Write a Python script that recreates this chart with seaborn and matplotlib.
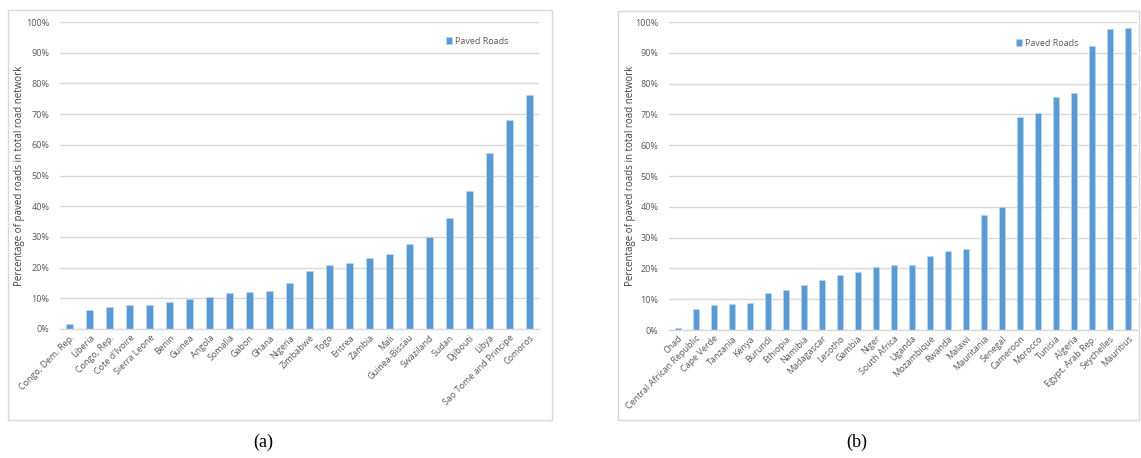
import matplotlib
matplotlib.use("Agg")
import matplotlib.pyplot as plt
import seaborn as sns
import pandas as pd
from matplotlib.patches import Rectangle
from matplotlib.ticker import PercentFormatter

countries_a = ["Congo, Dem. Rep.", "Liberia", "Congo, Rep.", "Cote d'Ivoire", "Sierra Leone",
               "Benin", "Guinea", "Angola", "Somalia", "Gabon", "Ghana", "Nigeria", "Zimbabwe",
               "Togo", "Eritrea", "Zambia", "Mali", "Guinea-Bissau", "Swaziland", "Sudan",
               "Djibouti", "Libya", "Sao Tome and Principe", "Comoros"]
paved_a = [1.7, 6.3, 7.1, 7.9, 7.9, 8.7, 9.8, 10.3, 11.7, 11.9, 12.5, 14.9, 18.9,
           20.8, 21.6, 23.2, 24.5, 27.8, 30.1, 36.3, 44.8, 57.3, 68.1, 76.3]

countries_b = ["Chad", "Central African Republic", "Cape Verde", "Tanzania", "Kenya", "Burundi",
               "Ethiopia", "Namibia", "Madagascar", "Lesotho", "Gambia", "Niger", "South Africa",
               "Uganda", "Mozambique", "Rwanda", "Malawi", "Mauritania", "Senegal", "Cameroon",
               "Morocco", "Tunisia", "Algeria", "Egypt, Arab Rep.", "Seychelles", "Mauritius"]
paved_b = [0.5, 6.7, 8.0, 8.3, 8.8, 12.1, 13.0, 14.5, 16.3, 17.9, 18.9, 20.5, 21.2,
           21.2, 24.1, 25.7, 26.2, 37.4, 39.8, 69.1, 70.4, 75.8, 77.1, 92.2, 97.7, 97.9]

yticks = [0, 10, 20, 30, 40, 50, 60, 70, 80, 90, 100]
series_name = "Paved Roads"
ylabel = "Percentage of paved roads in total road network"
captions = ["(a)", "(b)"]

sns.set_theme(style="white")
plt.rcParams['font.family'] = ['Open Sans', 'DejaVu Sans']

W, H = 1141, 458
fig = plt.figure(figsize=(W / 100, H / 100), dpi=100)

BAR = "#5B9BD5"
GRID = "#D9D9D9"
TXT = "#595959"


def px(x0, y0, x1, y1):
    return [x0 / W, (H - y1) / H, (x1 - x0) / W, (y1 - y0) / H]


# outer boxes
for (x0, y0, x1, y1) in [(8, 10, 552, 420), (618, 11, 1139, 420)]:
    fig.patches.append(Rectangle((x0 / W, (H - y1) / H), (x1 - x0) / W, (y1 - y0) / H,
                                 transform=fig.transFigure, fill=False,
                                 edgecolor="#D9D9D9", linewidth=1.0))

panels = [
    (countries_a, paved_a, px(60, 22, 539, 329), 20, (447, 40), captions[0], 263),
    (countries_b, paved_b, px(669, 22, 1137, 330), 630, (1017, 42), captions[1], 857),
]

for cats, vals, rect, ylx, legpos, cap, capx in panels:
    ax = fig.add_axes(rect)
    df = pd.DataFrame({"country": cats, "value": vals})
    sns.barplot(data=df, x="country", y="value", color=BAR, width=0.35,
                saturation=1, label=series_name, ax=ax, edgecolor="#BDD7EE", linewidth=0.4)
    ax.set_ylim(0, 100)
    ax.set_xlim(-0.5, len(cats) - 0.5)
    ax.set_yticks(yticks)
    ax.yaxis.set_major_formatter(PercentFormatter(decimals=0))
    ax.grid(axis="y", color=GRID, linewidth=1.0)
    ax.set_axisbelow(True)
    for s in ["top", "right", "left"]:
        ax.spines[s].set_visible(False)
    ax.spines["bottom"].set_color(GRID)
    ax.spines["bottom"].set_linewidth(1.0)
    ax.tick_params(axis="both", length=0, labelsize=6.5, colors=TXT)
    ax.tick_params(axis="y", pad=7.5)
    ax.tick_params(axis="x", pad=3)
    ax.set_xticks(range(len(cats)))
    ax.set_xticklabels(cats, rotation=45, ha="right", rotation_mode="anchor")
    ax.set_xlabel("")
    ax.set_ylabel("")
    fig.text(ylx / W, (H - 176) / H, ylabel, rotation=90, ha="center", va="center",
             fontsize=7, color="#404040")
    ax.legend(loc="upper left", bbox_to_anchor=((legpos[0] - 6) / W, (H - legpos[1] + 8) / H),
              bbox_transform=fig.transFigure, frameon=False, fontsize=6.5,
              handlelength=0.7, handleheight=0.7, handletextpad=0.3, borderpad=0,
              labelcolor=TXT)
    fig.text(capx / W, (H - 442) / H, cap, ha="center", va="center", fontsize=13,
             family="Liberation Serif", color="black")

fig.savefig("out.png", dpi=100, facecolor="white")
